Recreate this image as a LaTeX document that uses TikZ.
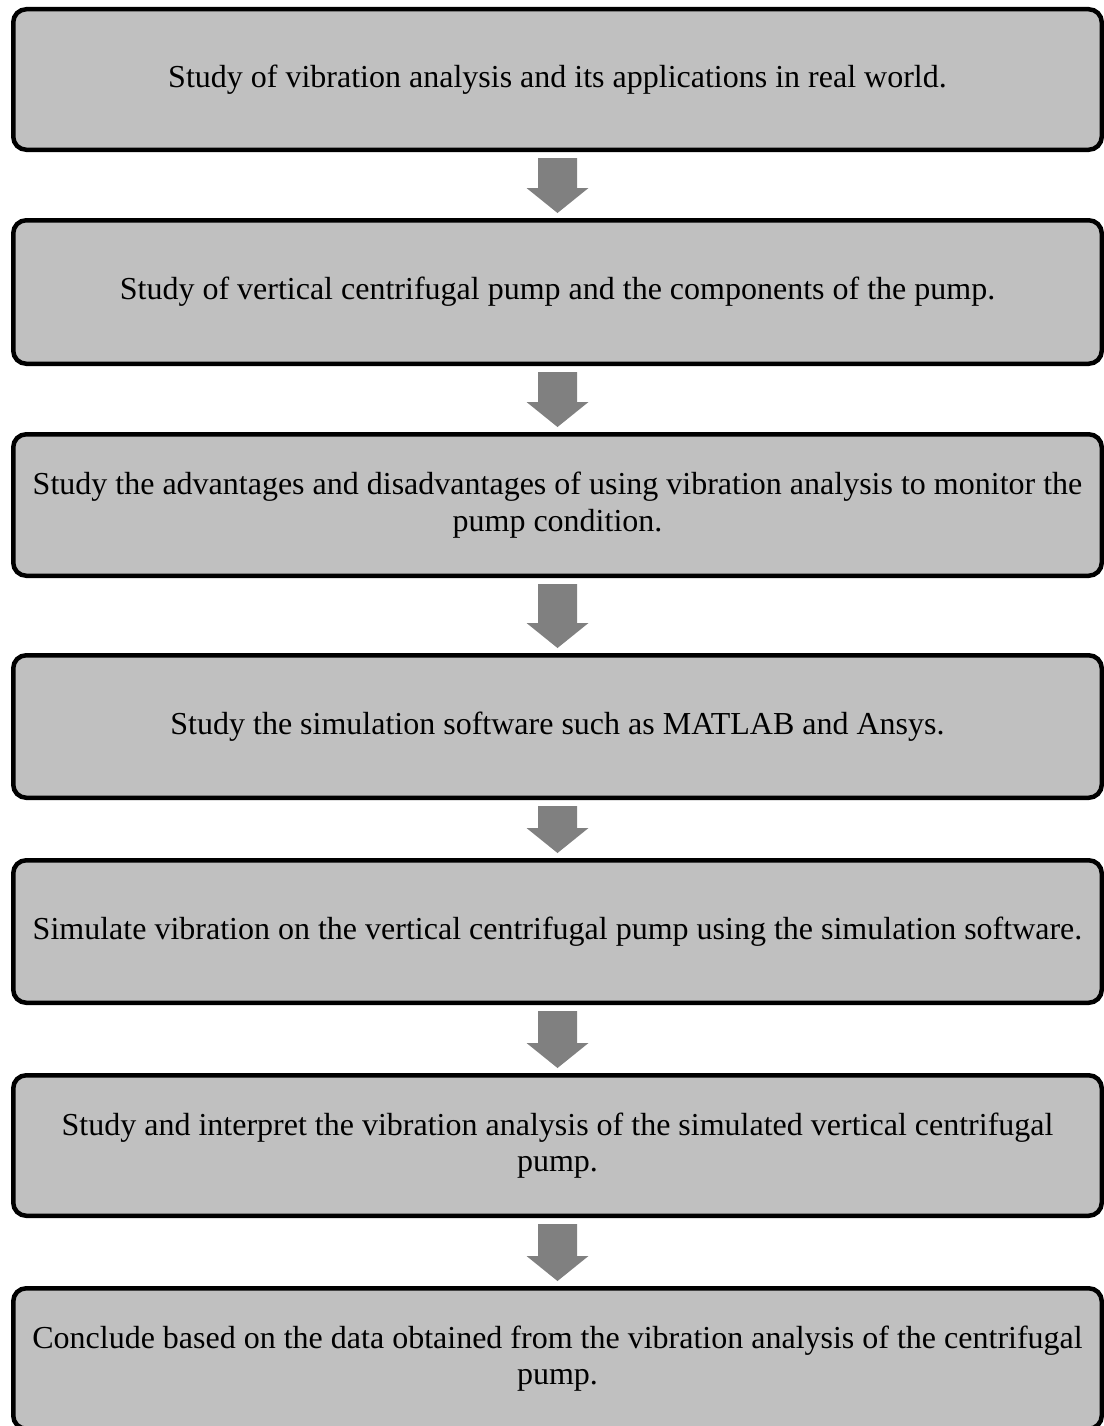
\documentclass[tikz,border=0pt]{standalone}
\usepackage{fontspec}
\setmainfont{Liberation Serif}
\usetikzlibrary{calc}
\definecolor{boxgray}{HTML}{C0C0C0}
\definecolor{arrowgray}{HTML}{808080}
\tikzset{
  stepbox/.style={draw=black, fill=boxgray, line width=4.5pt, rounded corners=13pt,
    minimum width=1088.5pt, align=center, inner sep=0pt,
    font=\fontsize{32}{36.5}\selectfont},
}
\newcommand\blockarrow[2]{%
  \fill[arrowgray] let \p1=($(#1.south)+(0,-6pt)$), \p2=($(#2.north)+(0,5pt)$) in
   (\x1-19.5pt,\y1) -- (\x1+19.5pt,\y1) -- (\x1+19.5pt,\y2+25pt) -- (\x1+31pt,\y2+25pt)
   -- (\x1,\y2) -- (\x1-31pt,\y2+25pt) -- (\x1-19.5pt,\y2+25pt) -- cycle;}
\begin{document}
\begin{tikzpicture}
\useasboundingbox (0,0) rectangle (1103pt,-1426pt);
\node[stepbox, minimum height=140.5pt] (b1) at (557.5pt,-79.5pt)
  {Study of vibration analysis and its applications in real world.};
\node[stepbox, minimum height=143.5pt] (b2) at (557.5pt,-292pt)
  {Study of vertical centrifugal pump and the components of the pump.};
\node[stepbox, minimum height=141.5pt] (b3) at (557.5pt,-505pt)
  {Study the advantages and disadvantages of using vibration analysis to monitor the\\pump condition.};
\node[stepbox, minimum height=142.5pt] (b4) at (557.5pt,-726.5pt)
  {Study the simulation software such as MATLAB and Ansys.};
\node[stepbox, minimum height=142.5pt] (b5) at (557.5pt,-931.5pt)
  {Simulate vibration on the vertical centrifugal pump using the simulation software.};
\node[stepbox, minimum height=140.5pt] (b6) at (557.5pt,-1145.5pt)
  {Study and interpret the vibration analysis of the simulated vertical centrifugal\\pump.};
\node[stepbox, minimum height=140.5pt] (b7) at (557.5pt,-1358.5pt)
  {Conclude based on the data obtained from the vibration analysis of the centrifugal\\pump.};
\blockarrow{b1}{b2}
\blockarrow{b2}{b3}
\blockarrow{b3}{b4}
\blockarrow{b4}{b5}
\blockarrow{b5}{b6}
\blockarrow{b6}{b7}
\end{tikzpicture}
\end{document}
